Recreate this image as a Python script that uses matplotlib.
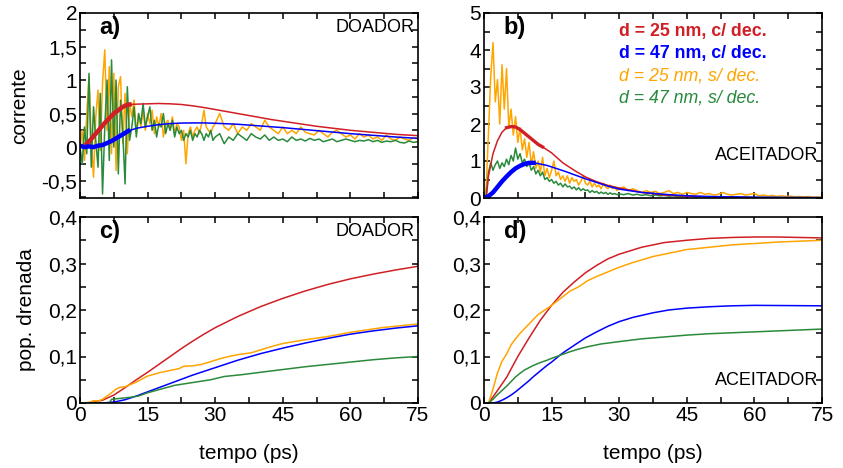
import numpy as np
import matplotlib
matplotlib.use("Agg")
import matplotlib.pyplot as plt
from matplotlib.ticker import MultipleLocator, FuncFormatter

# colours of the four cases
RED = "#d01f25"
BLUE = "#0000ff"
ORANGE = "#ffa500"
GREEN = "#2a8a3c"

# time grids for the noisy runs (fine early, coarse later)
t_noisy = np.concatenate([np.arange(0, 30, 0.5), np.arange(30, 76, 1.0)])

# ---- panel a) corrente, DOADOR ----
red_a_t = [0, 1.5, 2.5, 3.5, 4.5, 5.5, 6.5, 7.5, 8.5, 9.5, 10.5, 11, 12.5, 15, 17.5, 20,
           22.5, 25, 27.5, 30, 32.5, 35, 37.5, 40, 42.5, 45, 47.5, 50, 52.5, 55, 57.5,
           60, 62.5, 65, 67.5, 70, 72.5, 75]
red_a = [0.0, 0.05, 0.12, 0.2, 0.28, 0.36, 0.43, 0.5, 0.55, 0.6, 0.63, 0.635, 0.64, 0.645,
         0.65, 0.645, 0.635, 0.615, 0.59, 0.56, 0.53, 0.5, 0.47, 0.44, 0.41, 0.385, 0.36,
         0.335, 0.31, 0.29, 0.27, 0.25, 0.235, 0.22, 0.205, 0.19, 0.18, 0.17]
blue_a_t = [0, 1, 2, 3, 4, 5, 6, 7, 8, 9, 10, 10.7, 12.5, 15, 17.5, 20, 22.5, 25, 27.5,
            30, 35, 40, 45, 50, 55, 60, 65, 70, 75]
blue_a = [0.02, 0.0, 0.01, 0.0, 0.02, 0.03, 0.06, 0.09, 0.13, 0.17, 0.21, 0.24, 0.28,
          0.31, 0.335, 0.35, 0.358, 0.36, 0.36, 0.355, 0.34, 0.315, 0.29, 0.26, 0.23,
          0.2, 0.175, 0.15, 0.13]
orange_a = [0.0, 0.25, -0.2, 0.5, 1.05, 0.1, -0.45, 0.45, 0.85, -0.05, 0.95, 1.45, 0.25,
            1.2, -0.1, 1.1, -0.35, 0.9, 1.05, 0.05, 0.8, -0.1, 0.65, 0.45, 0.7, 0.2, 0.5,
            0.3, 0.55, 0.25, 0.5, 0.35, 0.55, 0.2, 0.45, 0.3, 0.5, 0.15, 0.35, 0.4, 0.25,
            0.45, 0.2, 0.35, 0.3, 0.1, 0.25, -0.25, 0.2, 0.3, 0.15, 0.25, 0.3, 0.2, 0.35,
            0.55, 0.3, 0.25, 0.2, 0.3,
            0.35, 0.5, 0.3, 0.25, 0.35, 0.2, 0.3, 0.25, 0.35, 0.3, 0.25, 0.4, 0.3, 0.25,
            0.2, 0.3, 0.2, 0.25, 0.2, 0.3, 0.22, 0.2, 0.18, 0.25, 0.2, 0.15, 0.22, 0.25,
            0.2, 0.15, 0.18, 0.12, 0.2, 0.15, 0.18, 0.12, 0.15, 0.1, 0.18, 0.12, 0.1, 0.15,
            0.12, 0.1, 0.14, 0.12]
green_a = [0.0, -0.25, 0.3, -0.1, 1.1, -0.3, 0.6, 0.1, -0.3, 0.8, -0.7, 0.3, 1.0, -0.2,
           1.3, 0.0, 1.0, -0.4, 0.7, 0.2, -0.55, 0.9, 0.1, 0.3, 0.6, 0.15, 0.5, 0.35,
           0.65, 0.3, 0.45, 0.6, 0.25, 0.4, 0.15, 0.35, 0.3, 0.5, 0.2, 0.35, 0.25, 0.4,
           0.15, 0.3, 0.2, 0.25, 0.1, 0.2, 0.15, 0.25, 0.1, 0.2, 0.15, 0.25, 0.2, 0.1,
           0.2, 0.15, 0.25, 0.1,
           0.15, 0.2, 0.05, 0.15, 0.1, 0.2, 0.15, 0.1, 0.2, 0.15, 0.12, 0.18, 0.1, 0.15,
           0.1, 0.12, 0.08, 0.15, 0.1, 0.12, 0.09, 0.13, 0.1, 0.12, 0.08, 0.1, 0.12, 0.08,
           0.1, 0.12, 0.1, 0.08, 0.1, 0.09, 0.11, 0.08, 0.1, 0.07, 0.09, 0.08, 0.1, 0.07,
           0.06, 0.09, 0.07, 0.08]

# ---- panel b) corrente, ACEITADOR ----
red_b_t = [0, 0.5, 1, 2, 3, 4, 5, 6, 7, 8, 9, 10, 11, 12, 13, 15, 17.5, 20, 22.5, 25,
           27.5, 30, 35, 40, 45, 50, 60, 75]
red_b = [0.0, 0.0, 0.6, 1.2, 1.55, 1.78, 1.9, 1.93, 1.92, 1.85, 1.75, 1.65, 1.55, 1.45,
         1.38, 1.22, 0.95, 0.75, 0.57, 0.44, 0.34, 0.27, 0.15, 0.08, 0.05, 0.03, 0.01, 0.0]
blue_b_t = [0, 1, 2, 3, 4, 5, 6, 7, 8, 9, 10, 11, 12, 14, 16, 18, 20, 22.5, 25, 27.5,
            30, 35, 40, 45, 50, 60, 75]
blue_b = [0.0, 0.05, 0.15, 0.3, 0.45, 0.58, 0.7, 0.8, 0.87, 0.92, 0.95, 0.95, 0.93, 0.88,
          0.8, 0.72, 0.63, 0.52, 0.42, 0.32, 0.24, 0.15, 0.1, 0.06, 0.04, 0.02, 0.01]
orange_b = [0.0, 0.3, 1.8, 3.3, 4.2, 2.6, 3.2, 2.0, 3.6, 2.4, 3.5, 1.9, 2.4, 1.7, 2.2,
            1.5, 1.9, 1.3, 1.6, 1.1, 1.5, 0.9, 1.25, 0.8, 1.0, 0.7, 1.1, 0.6, 0.8, 0.55,
            0.75, 1.0, 0.6, 0.7, 0.5, 0.6, 0.45, 0.6, 0.4, 0.55, 0.45, 0.5, 0.35, 0.45,
            0.6, 0.4, 0.35, 0.45, 0.3, 0.4, 0.3, 0.35, 0.25, 0.4, 0.3, 0.25, 0.35, 0.25,
            0.3, 0.2,
            0.25, 0.3, 0.2, 0.25, 0.2, 0.15, 0.2, 0.15, 0.18, 0.12, 0.15, 0.2, 0.12, 0.15,
            0.1, 0.15, 0.12, 0.1, 0.15, 0.1, 0.12, 0.08, 0.1, 0.15, 0.1, 0.08, 0.1, 0.12,
            0.08, 0.1, 0.12, 0.06, 0.08, 0.05, 0.07, 0.04, 0.06, 0.04, 0.05, 0.03, 0.04,
            0.03, 0.04, 0.02, 0.03, 0.02]
green_b = [0.0, 0.1, 0.7, 0.95, 0.75, 0.9, 1.0, 0.8, 0.95, 0.85, 1.05, 0.9, 1.15, 1.0,
           1.35, 1.05, 1.2, 0.95, 1.05, 0.85, 0.95, 0.75, 0.85, 0.65, 0.75, 0.6, 0.7, 0.5,
           0.55, 0.45, 0.5, 0.4, 0.45, 0.35, 0.4, 0.3, 0.38, 0.3, 0.32, 0.25, 0.3, 0.22,
           0.28, 0.2, 0.25, 0.2, 0.22, 0.15, 0.2, 0.15, 0.18, 0.12, 0.16, 0.12, 0.15, 0.1,
           0.14, 0.1, 0.12, 0.09,
           0.11, 0.09, 0.12, 0.08, 0.1, 0.07, 0.09, 0.06, 0.08, 0.06, 0.07, 0.05, 0.06,
           0.04, 0.05, 0.04, 0.05, 0.03, 0.04, 0.03, 0.04, 0.03, 0.03, 0.02, 0.03, 0.02,
           0.03, 0.02, 0.02, 0.02, 0.02, 0.01, 0.02, 0.01, 0.02, 0.01, 0.01, 0.01, 0.01,
           0.01, 0.01, 0.01, 0.01, 0.01, 0.01, 0.01]

# ---- panel c) pop. drenada, DOADOR ----
red_c_t = [0, 2.5, 5, 7.5, 10, 12.5, 15, 17.5, 20, 22.5, 25, 27.5, 30, 35, 40, 45, 50,
           55, 60, 65, 70, 75]
red_c = [0.0, 0.001, 0.006, 0.017, 0.033, 0.05, 0.066, 0.083, 0.1, 0.117, 0.133, 0.148,
         0.162, 0.186, 0.207, 0.225, 0.241, 0.255, 0.267, 0.277, 0.286, 0.294]
orange_c_t = [0, 2, 3, 4, 5, 6, 7, 8, 9, 10, 12.5, 15, 18, 20, 22, 23, 25, 27, 28, 31,
              33, 35, 38, 42, 45, 50, 55, 60, 67, 75]
orange_c = [0.0, 0.001, 0.005, 0.004, 0.008, 0.015, 0.022, 0.03, 0.034, 0.035, 0.045,
            0.058, 0.066, 0.07, 0.074, 0.079, 0.08, 0.083, 0.086, 0.095, 0.1, 0.104,
            0.108, 0.12, 0.128, 0.136, 0.143, 0.152, 0.162, 0.17]
blue_c_t = [0, 5, 7.5, 10, 12.5, 15, 17.5, 20, 22.5, 25, 27.5, 30, 35, 40, 45, 50, 55,
            60, 65, 70, 75]
blue_c = [0.0, 0.0, 0.002, 0.007, 0.015, 0.024, 0.033, 0.042, 0.051, 0.06, 0.068,
          0.076, 0.092, 0.106, 0.118, 0.129, 0.139, 0.148, 0.155, 0.161, 0.166]
green_c_t = [0, 6.5, 7, 9, 11, 13, 15, 18, 21, 25, 29, 32, 36, 40, 45, 50, 55, 60, 65,
             70, 75]
green_c = [0.0, 0.0, 0.008, 0.01, 0.012, 0.015, 0.022, 0.03, 0.038, 0.044, 0.05, 0.057,
           0.061, 0.066, 0.072, 0.078, 0.083, 0.088, 0.093, 0.097, 0.1]

# ---- panel d) pop. drenada, ACEITADOR ----
red_d_t = [0, 1, 2.5, 5, 7.5, 10, 12.5, 15, 17.5, 20, 22.5, 25, 27.5, 30, 35, 40, 45,
           50, 55, 60, 65, 70, 75]
red_d = [0.0, 0.0, 0.02, 0.055, 0.1, 0.14, 0.178, 0.21, 0.238, 0.26, 0.28, 0.296, 0.31,
         0.32, 0.335, 0.345, 0.35, 0.354, 0.356, 0.357, 0.357, 0.356, 0.355]
orange_d_t = [0, 1, 2, 3, 4, 5, 6, 7, 8, 9, 10, 12, 13.5, 15, 17, 19, 21, 23, 25, 27.5,
              30, 33, 37.5, 41, 45, 50, 55, 60, 65, 70, 75]
orange_d = [0.0, 0.0, 0.03, 0.065, 0.09, 0.105, 0.125, 0.138, 0.15, 0.16, 0.17, 0.19,
            0.2, 0.21, 0.225, 0.24, 0.25, 0.263, 0.272, 0.282, 0.292, 0.302, 0.315,
            0.322, 0.33, 0.335, 0.34, 0.343, 0.346, 0.348, 0.35]
blue_d_t = [0, 2, 3, 4, 5, 6, 7, 8, 9, 10, 11, 12, 13, 14, 15, 16, 17, 18, 20, 22.5,
            25, 27.5, 30, 33, 37.5, 41, 45, 50, 55, 60, 75]
blue_d = [0.0, 0.0, 0.002, 0.006, 0.011, 0.017, 0.024, 0.032, 0.04, 0.048, 0.057, 0.065,
          0.073, 0.081, 0.088, 0.096, 0.104, 0.111, 0.124, 0.14, 0.153, 0.165, 0.175,
          0.184, 0.194, 0.2, 0.204, 0.207, 0.209, 0.21, 0.209]
green_d_t = [0, 1, 2, 3, 4, 5, 6, 7, 8, 9, 10, 11, 12.5, 14, 15, 17, 19, 21, 23, 26, 30,
             35, 40, 45, 50, 55, 60, 65, 70, 75]
green_d = [0.0, 0.0, 0.008, 0.018, 0.027, 0.036, 0.046, 0.056, 0.064, 0.071, 0.076,
           0.081, 0.087, 0.092, 0.096, 0.103, 0.11, 0.116, 0.121, 0.127, 0.132, 0.138,
           0.142, 0.146, 0.149, 0.151, 0.153, 0.155, 0.157, 0.159]

legend_labels = ["d = 25 nm, c/ dec.", "d = 47 nm, c/ dec.",
                 "d = 25 nm, s/ dec.", "d = 47 nm, s/ dec."]

plt.rcParams['font.family'] = ['Liberation Sans', 'DejaVu Sans']
plt.rcParams['font.size'] = 13
plt.rcParams['axes.linewidth'] = 1.2

comma = FuncFormatter(lambda v, p: ("%g" % round(v, 3)).replace(".", ","))

fig = plt.figure(figsize=(8.43, 4.68), dpi=100)
W, H = 843.0, 468.0
def add_ax(x0, y0, x1, y1):
    return fig.add_axes([x0 / W, 1 - y1 / H, (x1 - x0) / W, (y1 - y0) / H])

ax_a = add_ax(80, 13, 418, 198)
ax_b = add_ax(484, 13, 822, 198)
ax_c = add_ax(80, 217, 418, 403)
ax_d = add_ax(484, 217, 822, 403)

lw = 1.1
band = 3.2

# a)
ax_a.plot(t_noisy, orange_a, color=ORANGE, lw=lw)
ax_a.plot(t_noisy, green_a, color=GREEN, lw=lw)
ra_t = np.array(red_a_t); ra = np.array(red_a)
ba_t = np.array(blue_a_t); ba = np.array(blue_a)
ax_a.plot(ra_t[ra_t >= 1.5], ra[ra_t >= 1.5], color=RED, lw=lw)
ax_a.plot(ra_t[(ra_t >= 1.5) & (ra_t <= 11)], ra[(ra_t >= 1.5) & (ra_t <= 11)],
          color=RED, lw=band)
ax_a.plot(ba_t, ba, color=BLUE, lw=lw)
ax_a.plot(ba_t[ba_t <= 10.7], ba[ba_t <= 10.7], color=BLUE, lw=band)

# b)
ax_b.plot(t_noisy, orange_b, color=ORANGE, lw=lw)
ax_b.plot(t_noisy, green_b, color=GREEN, lw=lw)
rb_t = np.array(red_b_t); rb = np.array(red_b)
bb_t = np.array(blue_b_t); bb = np.array(blue_b)
ax_b.plot(rb_t, rb, color=RED, lw=lw)
ax_b.plot(rb_t[(rb_t >= 5) & (rb_t <= 13)], rb[(rb_t >= 5) & (rb_t <= 13)],
          color=RED, lw=band - 0.8)
ax_b.plot(bb_t, bb, color=BLUE, lw=lw)
ax_b.plot(bb_t[bb_t <= 11], bb[bb_t <= 11], color=BLUE, lw=band)

# c)
ax_c.plot(red_c_t, red_c, color=RED, lw=lw)
ax_c.plot(orange_c_t, orange_c, color=ORANGE, lw=lw)
ax_c.plot(blue_c_t, blue_c, color=BLUE, lw=lw)
ax_c.plot(green_c_t, green_c, color=GREEN, lw=lw)

# d)
ax_d.plot(red_d_t, red_d, color=RED, lw=lw)
ax_d.plot(orange_d_t, orange_d, color=ORANGE, lw=lw)
ax_d.plot(blue_d_t, blue_d, color=BLUE, lw=lw)
ax_d.plot(green_d_t, green_d, color=GREEN, lw=lw)

limits = {ax_a: (-0.76, 2, 0.5, 0.25), ax_b: (0, 5, 1, 0.5),
          ax_c: (0, 0.4, 0.1, 0.05), ax_d: (0, 0.4, 0.1, 0.05)}
for ax, (y0, y1, maj, mnr) in limits.items():
    ax.set_xlim(0, 75)
    ax.set_ylim(y0, y1)
    ax.xaxis.set_major_locator(MultipleLocator(15))
    ax.xaxis.set_minor_locator(MultipleLocator(7.5))
    ax.yaxis.set_major_locator(MultipleLocator(maj))
    ax.yaxis.set_minor_locator(MultipleLocator(mnr))
    ax.yaxis.set_major_formatter(comma)
    ax.tick_params(which='both', direction='in', top=True, right=True,
                   length=4, width=1.1, labelsize=15, pad=2)

for ax in (ax_a, ax_b):
    ax.tick_params(labelbottom=False)

ax_a.set_ylabel("corrente", fontsize=15, labelpad=9)
ax_c.set_ylabel("pop. drenada", fontsize=15, labelpad=9)
ax_c.set_xlabel("tempo (ps)", fontsize=15, labelpad=14)
ax_d.set_xlabel("tempo (ps)", fontsize=15, labelpad=14)

for ax, lab in zip((ax_a, ax_b, ax_c, ax_d), ("a)", "b)", "c)", "d)")):
    ax.text(0.058, 0.92, lab, transform=ax.transAxes, fontsize=17,
            fontweight='bold', va='center', ha='left')

ax_a.text(0.99, 0.92, "DOADOR", transform=ax_a.transAxes, fontsize=13,
          va='center', ha='right')
ax_c.text(0.99, 0.92, "DOADOR", transform=ax_c.transAxes, fontsize=13,
          va='center', ha='right')
ax_b.text(0.99, 0.23, "ACEITADOR", transform=ax_b.transAxes, fontsize=13,
          va='center', ha='right')
ax_d.text(0.99, 0.12, "ACEITADOR", transform=ax_d.transAxes, fontsize=13,
          va='center', ha='right')

# legend typed as coloured text lines
styles = [(RED, 'bold', 'normal'), (BLUE, 'bold', 'normal'),
          (ORANGE, 'normal', 'italic'), (GREEN, 'normal', 'italic')]
for i, (lab, (col, wt, st)) in enumerate(zip(legend_labels, styles)):
    ax_b.text(0.40, 0.90 - i * 0.12, lab, transform=ax_b.transAxes, color=col,
              fontsize=12.8, fontweight=wt, fontstyle=st, va='center', ha='left')

fig.savefig("out.png", dpi=100)
